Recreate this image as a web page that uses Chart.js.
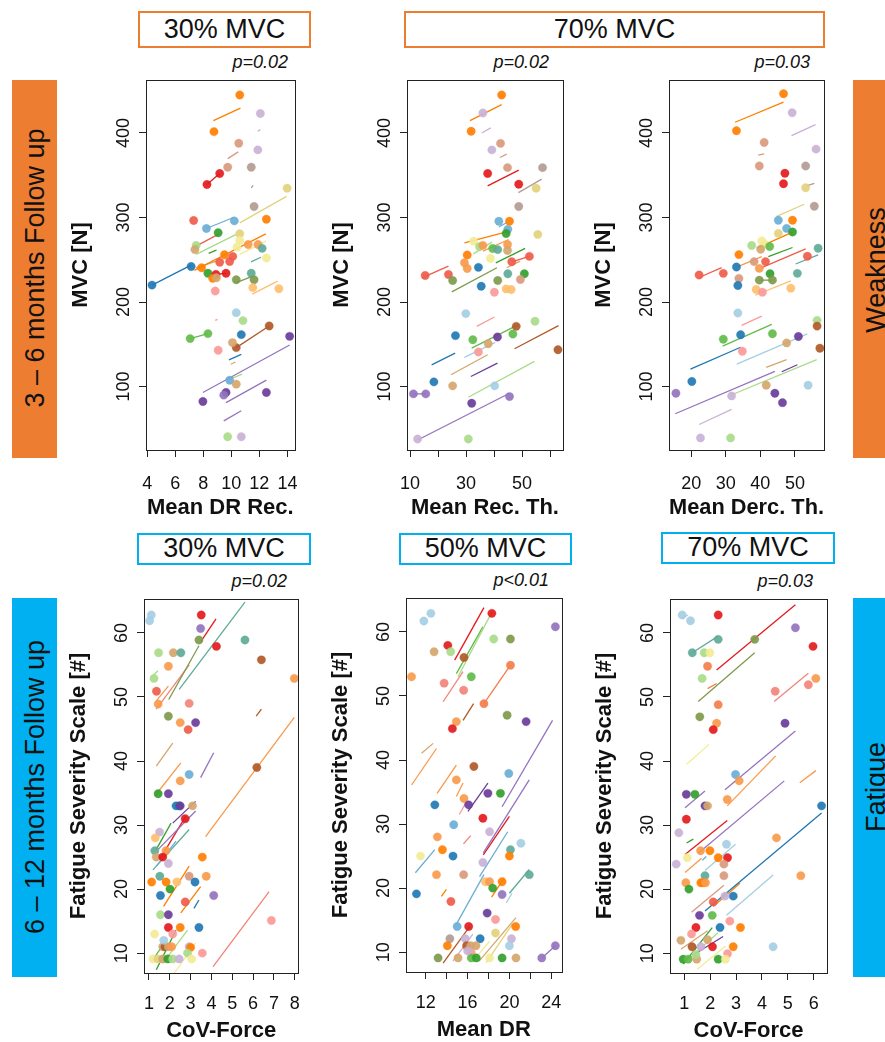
<!DOCTYPE html>
<html>
<head>
<meta charset="utf-8">
<script src="https://cdn.jsdelivr.net/npm/chart.js@4.4.1/dist/chart.umd.min.js"></script>
<style>
  body { margin: 0; width: 885px; height: 1042px; overflow: hidden; background: #fff; position: relative;
         font-family: "Liberation Sans", Arial, Helvetica, sans-serif; color: #111; }
  canvas { position: absolute; }
  .hdr { position: absolute; box-sizing: border-box; text-align: center; font-size: 27px; background: #fff; }
  .hdr.orange { border: 2.5px solid #ED7D31; }
  .hdr.blue { border: 2.5px solid #00B0F0; }
  .band { position: absolute; }
  .vtext { position: absolute; width: 400px; height: 32px; line-height: 32px; text-align: center;
           white-space: nowrap; font-size: 27px; transform: rotate(-90deg); }
  .pval { position: absolute; font-style: italic; font-size: 18px; line-height: 19px; white-space: nowrap; }
</style>
</head>
<body>

<div class="band" style="left:12px;top:80px;width:45px;height:378px;background:#ED7D31"></div>
<div class="band" style="left:853px;top:80px;width:32px;height:378px;background:#ED7D31"></div>
<div class="band" style="left:12px;top:598px;width:45px;height:379px;background:#00B0F0"></div>
<div class="band" style="left:853px;top:598px;width:32px;height:379px;background:#00B0F0"></div>

<div class="vtext" style="left:-165px;top:252px">3 – 6 months Follow up</div>
<div class="vtext" style="left:-165px;top:771px">6 – 12 months Follow up</div>
<div class="vtext" style="left:676px;top:254px">Weakness</div>
<div class="vtext" style="left:676px;top:771px">Fatigue</div>

<div class="hdr orange" style="left:138px;top:11px;width:173px;height:37px;line-height:32px">30% MVC</div>
<div class="hdr orange" style="left:404px;top:11px;width:421px;height:37px;line-height:32px">70% MVC</div>
<div class="hdr blue" style="left:137px;top:533px;width:174px;height:32px;line-height:27px">30% MVC</div>
<div class="hdr blue" style="left:399px;top:533px;width:173px;height:32px;line-height:27px">50% MVC</div>
<div class="hdr blue" style="left:661px;top:532px;width:174px;height:32px;line-height:27px">70% MVC</div>

<script>
// subject colours (Paired palette, stretched)
const palette = ['#A6CEE3', '#1F78B4', '#6AAED6', '#A9DB8A', '#33A02C', '#62BB4A', '#FB9A99', '#E31A1C',
                 '#EF5B4A', '#FDBF6F', '#FF7F00', '#F99A4C', '#CAB2D6', '#6A3D9A', '#9474BE', '#F3EC96',
                 '#E3D27D', '#B15928', '#D5A66C', '#D99A7E', '#B29C91', '#5FAA97', '#7E9A4C', '#F28479', '#F47E4B'];

// axis ticks
const mvcTicks = [100, 200, 300, 400];
const fssTicks = [10, 20, 30, 40, 50, 60];
const drRecTicks = [4, 6, 8, 10, 12, 14];
const recThTicks = [10, 20, 30, 40, 50, 60];
const recThLabels = ['10', '', '30', '', '50', ''];
const dercThTicks = [20, 30, 40, 50];
const cov30Ticks = [1, 2, 3, 4, 5, 6, 7, 8];
const drTicks = [12, 14, 16, 18, 20, 22, 24];
const drLabels = ['12', '', '16', '', '20', '', '24'];
const cov70Ticks = [1, 2, 3, 4, 5, 6];

// points: [x, y, subject]   lines: [x1, y1, x2, y2, subject]
const drRecPoints = [
  [10.6,445,10],[12.07,423,12],[8.76,401.6,10],[10.53,387.8,19],[11.89,380,12],[9.74,359.5,19],[11.42,359.5,20],
  [9.17,352,7],[8.26,339,7],[13.98,334.6,16],[11.62,313,20],[7.31,296.5,8],[8.22,287,2],[10.21,296,2],[12.5,298,10],
  [9.06,282,4],[10.6,280.7,16],[10.6,272.8,15],[7.49,267,3],[7.4,262,18],[11.2,268,11],[11.9,268,11],[10.4,265,15],
  [12.2,263.5,21],[12.5,252,15],[9.51,256,10],[7.88,240.5,10],[10.1,254,8],[9.88,248,8],[9.17,247,8],[7.13,242,1],
  [4.34,220,1],[8.33,234,4],[8.9,232.7,7],[9.62,234,7],[8.67,228,10],[8.94,228.7,18],[11.42,234,21],[10.35,226.4,22],
  [11.62,226.4,22],[11.53,217,9],[13.39,215.7,9],[8.85,213,6],[10.35,187.4,0],[10.83,178,3],[12.7,171.7,17],
  [10.35,146,17],[7.06,156.7,5],[8.33,162.6,5],[10.71,161.4,1],[10.08,152,18],[14.16,159.4,13],[9.06,143,6],
  [9.88,107.5,2],[10.35,102.8,18],[9.62,93,13],[12.5,93,13],[9.46,89.8,14],[7.97,82.3,13],[9.74,40.6,3],[10.71,40.6,12]
];
const drRecLines = [
  [8.72,414.6,10.65,429.5,10],[11.89,402,12.07,404,12],[9.74,369.7,10.49,377.6,19],[8.26,339,9.17,352,7],
  [11.42,335,11.56,338,20],[10.6,293.7,13.94,325,16],[8.22,287,10.15,300,2],[7.31,264.6,9.06,280,8],
  [7.49,256.3,10.35,280,3],[8.38,257.5,8.94,261.4,4],[7.36,237.4,12.46,280.7,10],[10.58,256,12.46,272,15],
  [11.4,247.6,12.12,253,21],[4.34,220,7.13,243.7,1],[7.47,240.5,8.94,248.4,18],[8.9,232.7,9.62,234,7],
  [10.35,223,11.53,230.7,22],[11.49,209.4,13.3,224.8,9],[8.85,178.3,9.01,179.5,6],[7.06,156.7,8.33,162.6,5],
  [10.35,146,12.7,171.7,17],[9.83,131.5,10.71,138,1],[9.96,126.4,10.3,129,18],[9.92,108.7,10.76,114.6,3],
  [7.97,93,14.16,149.2,14],[9.62,81,12.5,107.5,14],[9.46,59.4,10.71,71.3,14]
];

const recThPoints = [
  [42.7,445,10],[36,423.7,12],[31.8,402,10],[42.3,387.7,19],[39.2,380,12],[44.8,359,19],[57.3,359,20],[37.7,352,7],
  [48.8,339.4,7],[55,334.7,16],[48.8,313,20],[41.7,295.5,2],[44.9,286,2],[45.5,295.5,10],[44.3,281,4],[55.6,280,16],
  [32.7,272,15],[30.4,255.6,10],[34.8,265.4,3],[38.7,251.6,15],[36,267,11],[39.5,263.4,5],[41.3,262,21],[44.8,268,11],
  [44.8,261,18],[29.4,246.4,11],[30.4,239.7,11],[34.4,241,1],[46.3,247.6,8],[52.6,254,8],[15.4,231.4,8],[23.7,232.6,8],
  [25.2,225.4,22],[41.3,225.4,22],[44.9,233.4,21],[50.8,233.4,4],[35.4,218.7,1],[44.3,215.5,9],[46.1,214.8,9],
  [40.1,211.6,6],[49.4,226.6,19],[29.9,186.3,0],[54.6,177.2,3],[47.9,171.2,17],[62.8,143.6,17],[32.4,155.4,5],
  [46.7,162.1,5],[26.2,160.2,1],[41.2,158.6,13],[37.9,150.7,18],[34.4,140.8,6],[18.5,105.5,1],[25.2,100.8,18],
  [40.2,100.8,0],[11.2,91.3,14],[15.6,91.3,14],[32,80.2,13],[45.5,88.1,14],[12.7,37.9,12],[30.8,37.9,3]
];
const recThLines = [
  [31.4,414.6,42.7,433.6,10],[35.6,400,38.8,406,12],[42.1,371,44.5,375,19],[37.7,337.4,48.8,356,7],
  [48.7,329.5,57,345.4,20],[41.7,288.8,44.9,294.7,2],[29.4,270,45.5,284,10],[36,260.3,45.2,274,11],
  [32.6,257,39.2,270.9,3],[40.6,246.4,51.1,263.4,4],[44.5,240.5,49.3,248.4,18],[24.9,212,41,240.5,22],
  [14.2,228.6,23.7,242.5,8],[46.3,247.6,52.6,254,8],[33.8,171.2,40.1,182.3,6],[32,145.5,48.7,173.2,5],
  [29.4,134.4,40.4,152.2,0],[17.7,125.7,26.1,139.6,1],[24.6,113.9,37.7,137.6,18],[47.3,144.7,63,172,17],
  [31.7,111.9,41.2,127.7,13],[30.8,87.3,54.4,129.7,3],[12.7,36.7,45.5,92.1,14],[11.2,91.3,15.6,91.3,14]
];

const dercThPoints = [
  [46.7,446.4,10],[49.2,424,12],[33.1,402.7,10],[41.1,388.8,19],[56.1,380.9,12],[39.7,361,19],[53.1,361,20],
  [47.1,352.3,7],[46.7,340,7],[53.1,335.2,16],[55.6,313.3,20],[45.2,296.7,2],[47.6,287.1,2],[49.3,296.7,10],
  [49.3,282.8,4],[45.2,281.2,16],[40.4,272.4,15],[41.3,268.5,15],[37.5,266.9,3],[42.7,265.7,5],[40.1,262.5,18],
  [56.7,263.7,21],[33.8,256.1,10],[41.5,247.8,8],[53.6,254.2,8],[38.2,247.8,19],[33.1,241.4,1],[39.7,239.8,11],
  [22.3,231.9,8],[29.3,233.9,8],[42.8,233.5,4],[50.7,233.9,21],[33.8,227.9,19],[39.7,225.9,22],[43.5,225.9,22],
  [33.5,219.6,1],[38.8,214.8,9],[48.8,216.4,9],[40.6,211.6,6],[33.5,187,0],[56.4,178.3,3],[56.4,171.5,17],
  [57.2,145.3,17],[29.3,156,5],[43.5,162.4,5],[34.3,161.2,1],[34.8,141.7,6],[51,159.2,13],[47.6,151.6,18],
  [20.2,106,1],[41.7,101.6,18],[53.8,101.6,0],[15.6,92,14],[46.4,80.9,13],[44.2,92,13],[31.7,88.9,12],
  [22.7,39.2,12],[31.4,39.2,3]
];
const dercThLines = [
  [32.7,412.7,46.7,436.5,10],[49,396.8,55.96,409.9,12],[39.4,373.7,41.1,375.3,19],[53.1,337,55.6,340.4,20],
  [44.7,301.4,52.7,315.7,16],[39,263.7,49.3,282.8,10],[42.3,253.8,49.3,264.5,4],[40.4,240.6,53.1,262.9,8],
  [33.5,241.8,40.4,253.8,11],[50.2,245,56.7,255.7,21],[22.3,229,28.8,240.6,8],[38.5,208,48.8,225.1,9],
  [34.6,172.3,40.4,183.4,6],[29.1,147.7,43.3,173.5,5],[19.8,120.7,34.3,146.5,1],[33.2,126.6,53.6,162.4,0],
  [41.7,122.6,47.6,131.8,18],[46.2,117.5,50.7,125.8,13],[15.4,67.8,44.2,117.9,14],[31.4,89.7,56.3,131.8,3],
  [22.3,55.1,31.7,73,12],[39.7,225.9,43.5,225.9,22]
];

const cov30Points = [
  [1.11,62.8,0],[1.03,61.9,0],[3.51,62.8,7],[3.48,60.7,14],[3.4,58.9,22],[4.24,57.9,7],[5.61,58.9,21],[6.4,55.8,17],
  [7.98,52.9,11],[1.46,56.9,3],[2.17,56.9,18],[2.53,56.9,21],[1.24,52.9,3],[1.93,54.8,11],[1.36,50.9,8],[2.93,49,23],
  [1.44,48.9,11],[1.93,47,22],[2.5,46,11],[2.88,44.9,8],[3.24,46,13],[6.18,39,17],[2.93,37.9,2],[2.5,36.9,11],
  [1.44,34.9,4],[1.93,34.9,13],[2.3,33,1],[2.45,33,1],[2.5,33,13],[3.09,33,18],[2.74,31,7],[1.51,28.9,12],[1.3,28,9],
  [1.28,26,21],[1.35,25,18],[1.82,26,11],[1.66,25,7],[3.56,25,10],[1.93,24,12],[1.52,22,21],[2.93,22,19],[3.75,22,11],
  [1.13,21.1,10],[1.82,21.1,10],[2.34,21.1,9],[3.21,21.1,1],[1.55,19,1],[2.01,20,4],[4.11,19,14],[2.74,18,8],
  [1.55,16,3],[1.93,16,13],[1.93,14,7],[2.5,14,10],[3.4,14,1],[1.27,13,15],[2.14,13,6],[1.66,11,18],[1.77,11,17],
  [1.93,11,18],[2.09,11,11],[2.93,11,12],[3.0,10.9,10],[3.56,10,6],[2.85,10,3],[1.19,9.1,15],[1.43,9.1,16],
  [1.66,9.1,18],[1.9,9.1,4],[2.14,9.1,3],[2.45,9.1,12],[3.05,9.1,15],[1.71,12,0],[6.88,15.1,6]
];
const cov30Lines = [
  [2.45,51.2,5.61,64.8,21],[3.48,58.6,4.22,62.2,7],[1.95,49.6,3.4,58,22],[1.35,48.1,2.93,55,23],[1.35,49.4,1.93,51.7,11],
  [1.19,53.3,1.43,54.1,3],[6.15,47,6.4,48.1,17],[1.35,39.2,2.14,42.8,18],[3.48,37.4,4.11,41.3,14],[1.27,34.5,2.53,39.7,11],
  [3.72,28.2,7.98,46.8,11],[2.14,30.3,3.24,33.7,13],[1.35,26.2,2.06,30.3,4],[1.44,26.2,3.24,32.2,14],
  [1.51,24.6,2.77,31.4,7],[1.35,23.6,2.3,27.5,2],[1.19,23,2.93,29.3,21],[1.7,17.3,2.93,23.6,10],[2.53,16.3,3.48,20.4,10],
  [3.16,17,3.4,18.3,1],[4.08,7.9,6.77,19.6,23],[1.35,7.4,2.3,13.6,4],[1.66,8.4,2.85,13.6,3],[2.22,6.9,3.24,11.6,15],
  [1.19,9,1.74,11.6,5]
];

const drPoints = [
  [11.81,61.7,0],[12.48,62.9,0],[12.79,56.9,18],[14.1,57.9,7],[14.38,56.9,3],[18.32,62.9,7],[18.5,58.9,3],[20.1,58.9,22],
  [15.65,56,17],[10.63,53,11],[16.35,53,5],[13.75,52,23],[15.62,50.9,23],[20.1,54.8,24],[17.56,48.8,24],[14.92,46,11],
  [14.54,44.9,7],[19.78,47,22],[21.6,46,13],[16.6,39,17],[19.94,37.9,2],[14.92,36.9,11],[17.94,34.8,13],[19.14,34.8,4],
  [15.65,34,11],[16.1,33,13],[12.86,33,1],[17.46,30.9,7],[14.67,29.9,2],[18.1,28.8,12],[21.1,27,0],[13.1,28,11],
  [13.59,26,10],[20.1,26,21],[14.6,25,1],[17.46,24,12],[11.49,25,15],[20,25,10],[13.02,22.1,11],[15.62,22.1,19],
  [21.9,22.1,21],[17.7,21,9],[18.1,21,11],[19.3,21,10],[18.4,20,4],[19.3,19,14],[11.1,19.1,1],[14.4,17.9,8],[15,14,2],
  [16.1,14,7],[17.87,16.1,13],[18.67,15.1,6],[20.6,14,10],[18.67,13,16],[20.2,12.1,12],[20,11,0],[14.3,12.1,20],
  [15.78,12.1,12],[17.2,12.1,1],[14.06,11,10],[15.9,11,17],[16.3,11,18],[16.8,11,18],[16.35,9.9,6],[24.4,11,14],
  [23.1,9.1,14],[13.17,9.1,22],[15.08,9.1,18],[16.35,9.1,5],[16.83,9.1,4],[18.1,9.1,15],[19.3,9.1,4],[20.63,9.1,18],
  [24.4,60.8,14],[16.0,10.2,12]
];
const drLines = [
  [14.76,55.6,17.56,63.8,7],[15.08,53,18.32,63.1,3],[14.92,53.5,17.46,60.8,5],[13.65,49.1,15.56,53.8,23],
  [17.56,48.8,20.1,54.8,24],[15.56,46.2,16.57,48.8,17],[11.59,41.05,12.7,42.6,18],[10.63,36.1,13.02,41.8,11],
  [13.08,34.8,14.92,39.2,11],[14.92,34.3,15.56,36.4,11],[16.03,32,17.94,36.4,13],[19.3,32.7,24.13,46.2,14],
  [17.5,25.5,21.9,36.9,14],[17.5,25.2,20.0,31.2,7],[17.14,21.8,19.84,28.8,2],[11.0,22.4,12.86,26,2],[20,19.2,21.9,22.9,21],
  [14.9,14.3,17.56,22.1,2],[13.49,18.7,13.97,19.8,10],[19.7,17.7,20.25,19.2,0],[13.65,8.3,16.19,14,17],
  [14.6,8.6,16.5,12.8,12],[16.5,8.6,18.1,11.7,15],[17.1,8.6,20.63,15.4,18],[17.8,8.4,20.3,14.4,16],[23.1,9.1,24.4,11,14],
  [18.3,18.6,19.5,21.6,10],[15.2,31.5,15.9,33.5,6],[15.6,26.9,16.3,28.2,23]
];

const cov70Points = [
  [0.92,62.8,0],[1.24,61.9,0],[2.31,62.8,7],[5.29,60.8,14],[1.31,56.9,21],[1.77,56.9,3],[1.99,56.9,15],[2.31,59,21],
  [3.72,59,22],[5.97,57.9,7],[1.9,54.8,24],[1.69,52.9,3],[6.08,52.9,11],[4.51,50.9,23],[5.79,51.9,23],[2.31,48.8,24],
  [1.6,46.9,22],[2.25,45.9,11],[4.89,45.9,13],[2.12,44.9,7],[2.98,37.9,2],[3.12,36.9,11],[1.08,34.8,13],[1.41,34.8,4],
  [2.66,34,11],[1.8,33,13],[1.9,33,18],[6.3,33,1],[1.08,30.9,7],[0.79,28.8,12],[4.56,28,11],[2.63,27,0],[1.63,26,11],
  [1.99,26,10],[1.12,24.9,15],[2.31,24.9,10],[2.67,24.9,7],[0.69,23.9,12],[2.53,23.9,19],[1.8,22.1,21],[2.53,22.1,19],
  [5.5,22.1,11],[1.06,21,11],[1.64,21,10],[1.73,21,10],[1.82,21,11],[1.18,20,4],[2.89,18.9,1],[2.57,18.9,12],
  [2.12,18,8],[1.59,15.9,13],[2.08,15.9,5],[2.76,15,6],[1.45,14,7],[2.38,14,1],[3.17,14,10],[1.28,13,6],[4.43,11,0],
  [0.87,12,18],[1.3,11,17],[1.64,11,12],[2.09,11,7],[2.89,11,10],[2.67,9.9,6],[0.96,9.06,4],[1.15,9.06,5],
  [1.48,9.06,18],[2.31,9.06,4],[2.59,9.06,15],[1.9,12.1,18],[1.45,9.8,3]
];
const cov70Lines = [
  [0.9,62.3,1.15,62.8,0],[1.31,56.9,2.31,59.5,21],[2.25,54.2,5.29,64.4,7],[1.54,49.3,3.72,56.9,22],
  [1.9,51.3,2.25,52.1,24],[4.47,49.3,5.79,53.7,23],[1.09,39.5,1.96,42.6,15],[2.57,35.5,5.29,44.7,14],
  [2.66,33,4.53,40.8,11],[5.46,36.6,6.08,38.5,11],[1.03,32.7,1.8,35.3,14],[1.54,25.6,4.86,36.9,14],
  [1.03,25.4,2.66,30.7,7],[1.8,22.9,2.98,27,0],[1.03,22.6,1.67,24.8,11],[1.8,16.6,6.3,31.9,1],[2.63,15.9,4.43,22.2,0],
  [2.12,17.3,3.15,20.9,10],[1.28,16.4,2.53,20.6,19],[1.09,27.2,1.35,27.8,4],[0.96,8.3,2.08,14,4],[1.5,7.5,2.6,11.1,15],
  [1.15,9,2.3,13.2,3],[1.3,9.6,2.5,12.6,13],[0.87,10.6,1.9,13.5,18],[1.7,24.5,1.85,25.1,2]
];

const FAM = '"Liberation Sans", Arial, Helvetica, sans-serif';
Chart.defaults.font.family = FAM;
Chart.defaults.color = '#111';

// margins around each plot box, in px
const M = { left: 85, right: 12, top: 6, bottom: 76 };

const panels = [
  { box: [146, 80, 302, 450], x: [3.91, 14.52], y: [24.9, 462.7], xTicks: drRecTicks, yTicks: mvcTicks,
    xTitle: 'Mean DR Rec.', yTitle: 'MVC [N]', pts: drRecPoints, lines: drRecLines, p: 'p=0.02', pad: 16 },
  { box: [407, 80, 563, 450], x: [8.9, 64.6], y: [24.9, 462.7], xTicks: recThTicks, xLabels: recThLabels, yTicks: mvcTicks,
    xTitle: 'Mean Rec. Th.', yTitle: 'MVC [N]', pts: recThPoints, lines: recThLines, p: 'p=0.02', pad: 16 },
  { box: [669, 80, 824, 450], x: [13.6, 58.4], y: [24.9, 462.7], xTicks: dercThTicks, yTicks: mvcTicks,
    xTitle: 'Mean Derc. Th.', yTitle: 'MVC [N]', pts: dercThPoints, lines: dercThLines, p: 'p=0.03', pad: 16 },
  { box: [144, 599, 301, 973], x: [0.76, 8.18], y: [6.9, 65.3], xTicks: cov30Ticks, yTicks: fssTicks,
    xTitle: 'CoV-Force', yTitle: 'Fatigue Severity Scale [#]', pts: cov30Points, lines: cov30Lines, p: 'p=0.02', pad: 13 },
  { box: [406, 598, 563, 972], x: [10.1, 25.0], y: [6.9, 65.3], xTicks: drTicks, xLabels: drLabels, yTicks: fssTicks,
    xTitle: 'Mean DR', yTitle: 'Fatigue Severity Scale [#]', pts: drPoints, lines: drLines, p: 'p<0.01', pad: 13 },
  { box: [670, 599, 827, 973], x: [0.45, 6.51], y: [6.9, 65.3], xTicks: cov70Ticks, yTicks: fssTicks,
    xTitle: 'CoV-Force', yTitle: 'Fatigue Severity Scale [#]', pts: cov70Points, lines: cov70Lines, p: 'p=0.03', pad: 13 }
];

// box around the plot region and base-R style rotated y labels
const rFrame = {
  id: 'rFrame',
  afterDraw(chart) {
    const { ctx, chartArea: a, scales: { y } } = chart;
    ctx.save();
    ctx.strokeStyle = '#222';
    ctx.lineWidth = 1;
    ctx.strokeRect(Math.round(a.left) + 0.5, Math.round(a.top) + 0.5,
                   Math.round(a.right - a.left), Math.round(a.bottom - a.top));
    ctx.fillStyle = '#111';
    ctx.font = '18px ' + FAM;
    ctx.textAlign = 'center';
    ctx.textBaseline = 'middle';
    y.ticks.forEach(t => {
      ctx.save();
      ctx.translate(a.left - 22, y.getPixelForValue(t.value));
      ctx.rotate(-Math.PI / 2);
      ctx.fillText(String(t.value), 0, 0);
      ctx.restore();
    });
    ctx.restore();
  }
};

function axisGrid() {
  return { drawOnChartArea: false, drawTicks: true, tickLength: 7, color: '#222', lineWidth: 1 };
}

function withAlpha(hex, a) {
  const n = parseInt(hex.slice(1), 16);
  return `rgba(${n >> 16},${(n >> 8) & 255},${n & 255},${a})`;
}

panels.forEach(cfg => {
  const [l, t, r, b] = cfg.box;
  const w = r - l + M.left + M.right;
  const h = b - t + M.top + M.bottom;
  const cv = document.createElement('canvas');
  cv.width = w; cv.height = h;
  cv.style.left = (l - M.left) + 'px';
  cv.style.top = (t - M.top) + 'px';
  cv.style.width = w + 'px';
  cv.style.height = h + 'px';
  document.body.appendChild(cv);

  const pv = document.createElement('div');
  pv.className = 'pval';
  pv.textContent = cfg.p;
  pv.style.right = (885 - (r - 14)) + 'px';
  pv.style.top = (t - 27) + 'px';
  document.body.appendChild(pv);

  const pointSet = {
    data: cfg.pts.map(p => ({ x: p[0], y: p[1] })),
    pointRadius: 4.2,
    pointBackgroundColor: cfg.pts.map(p => withAlpha(palette[p[2]], 0.92)),
    pointBorderColor: cfg.pts.map(p => withAlpha(palette[p[2]], 0.6)),
    pointBorderWidth: 0.5
  };
  const lineSets = cfg.lines.map(s => ({
    data: [{ x: s[0], y: s[1] }, { x: s[2], y: s[3] }],
    showLine: true,
    borderColor: palette[s[4]],
    borderWidth: 1.3,
    pointRadius: 0
  }));

  new Chart(cv, {
    type: 'scatter',
    data: { datasets: [pointSet, ...lineSets] },
    options: {
      responsive: false,
      animation: false,
      events: [],
      layout: { padding: { top: M.top, right: M.right, left: 0, bottom: 0 } },
      plugins: { legend: { display: false }, tooltip: { enabled: false } },
      scales: {
        x: {
          type: 'linear', min: cfg.x[0], max: cfg.x[1],
          afterBuildTicks: s => { s.ticks = cfg.xTicks.map(v => ({ value: v })); },
          afterFit: s => { s.height = M.bottom; },
          border: { display: false },
          grid: axisGrid(),
          ticks: {
            autoSkip: false, maxRotation: 0, padding: cfg.pad, font: { size: 18 }, color: '#111',
            callback: (v, i) => cfg.xLabels ? cfg.xLabels[i] : String(v)
          },
          title: { display: true, text: cfg.xTitle, color: '#111',
                   font: { size: 22, weight: 'bold' }, padding: { top: 0, bottom: 4.8 } }
        },
        y: {
          type: 'linear', min: cfg.y[0], max: cfg.y[1],
          afterBuildTicks: s => { s.ticks = cfg.yTicks.map(v => ({ value: v })); },
          afterFit: s => { s.width = M.left; },
          border: { display: false },
          grid: axisGrid(),
          ticks: { display: false },
          title: { display: true, text: cfg.yTitle, color: '#111',
                   font: { size: 22, weight: 'bold' }, padding: { top: 6.8, bottom: 0 } }
        }
      }
    },
    plugins: [rFrame]
  });
});
</script>
</body>
</html>
